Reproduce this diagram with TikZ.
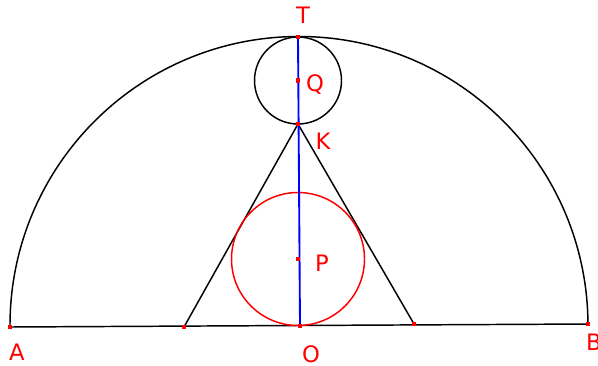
\documentclass[tikz,border=0pt]{standalone}
\usepackage{fontspec}
\setmainfont{DejaVu Sans}
\begin{document}
\begin{tikzpicture}[x=0.75pt,y=0.75pt,
  pt/.style={fill=red,inner sep=0pt,minimum size=3.5pt,draw=none},
  lbl/.style={text=red,font=\fontsize{17}{17}\selectfont,inner sep=0pt},
  ln/.style={line width=1.1pt,black}]
\useasboundingbox (0,0) rectangle (598,365);
\coordinate (A) at (10,38);
\coordinate (B) at (588,41);
\coordinate (O) at (300,39);
\coordinate (L) at (184,38);
\coordinate (R) at (414,41);
\coordinate (K) at (298,241);
\coordinate (T) at (298,328);
\coordinate (Q) at (298,284.5);
\coordinate (P) at (298,106);
% semicircle and base
\draw[ln] (A) arc[start angle=180.3,end angle=0.3,radius=289];
\draw[ln] (A) -- (B);
% triangle
\draw[ln] (L) -- (K) -- (R);
% small circle
\draw[ln] (Q) circle[radius=43.5];
% red circle
\draw[red,line width=1.1pt] (P) circle[radius=66.5];
% blue line
\draw[blue,line width=1.4pt] (T) -- (O);
% points
\foreach \p in {A,B,O,L,R,K,T,Q,P} \node[pt] at (\p) {};
% labels
\node[lbl] (lT) at (303,350) {T};
\node[lbl] (lQ) at (315,280) {Q};
\node[lbl] (lK) at (323,224) {K};
\node[lbl] (lP) at (322,102) {P};
\node[lbl] (lA) at (17,13) {A};
\node[lbl] (lO) at (311,11) {O};
\node[lbl] (lB) at (594,23) {B};
\end{tikzpicture}
\end{document}
